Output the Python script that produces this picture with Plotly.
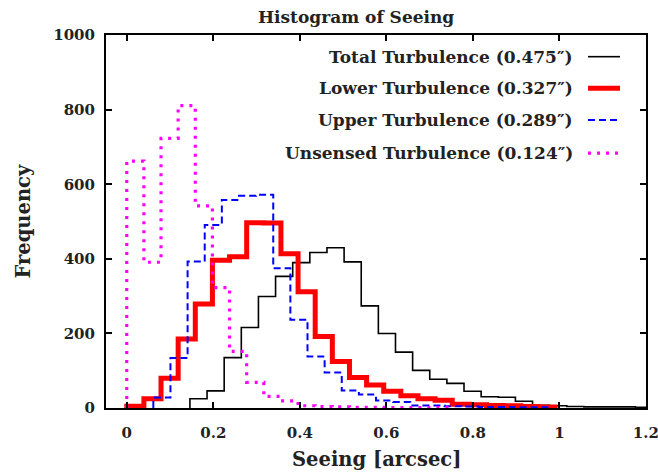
import plotly.graph_objects as go

# ---------------- data ----------------
bin_width = 0.0396

total_start = 0.146
total_counts = [25, 46, 135, 216, 299, 353, 390, 417, 430, 392, 274, 200, 150, 101,
                77, 66, 45, 30, 29, 18, 7, 6, 4, 3, 3, 3, 2]

lower_start = 0.0
lower_counts = [5, 25, 80, 185, 279, 396, 406, 497, 496, 414, 312, 192, 125, 82,
                62, 45, 33, 25, 21, 10, 9, 7, 6, 4, 3]

upper_start = 0.0614
upper_counts = [28, 134, 393, 491, 558, 569, 572, 375, 237, 138, 95, 47, 36, 20,
                16, 7, 7, 5, 4, 3, 3, 2, 2]

unsensed_start = 0.0
unsensed_counts = [662, 391, 723, 811, 542, 323, 152, 69, 31, 19, 6, 4, 3, 2, 2,
                   1, 1, 1, 1]

series_names = ["Total Turbulence (0.475\u2033)",
                "Lower Turbulence (0.327\u2033)",
                "Upper Turbulence (0.289\u2033)",
                "Unsensed Turbulence (0.124\u2033)"]

x_tickvals = [0, 0.2, 0.4, 0.6, 0.8, 1.0, 1.2]
x_ticktext = ["0", "0.2", "0.4", "0.6", "0.8", "1", "1.2"]
y_tickvals = [0, 200, 400, 600, 800, 1000]

# ---------------- styling ----------------
FONT = "DejaVu Serif"
TXT = "#222222"
styles = [
    dict(color="black", width=1.6, dash="solid"),
    dict(color="#ff0000", width=5, dash="solid"),
    dict(color="#0000ff", width=2, dash="7px,4px"),
    dict(color="#ff00ff", width=3.2, dash="3px,6px"),
]


def step_xy(start, counts):
    edges = [start + bin_width * i for i in range(len(counts) + 1)]
    xs = [edges[0]] + edges
    ys = [0] + list(counts) + [0]
    return xs, ys


fig = go.Figure()
all_series = [(total_start, total_counts), (lower_start, lower_counts),
              (upper_start, upper_counts), (unsensed_start, unsensed_counts)]
for (start, counts), name, st in zip(all_series, series_names, styles):
    xs, ys = step_xy(start, counts)
    fig.add_trace(go.Scatter(x=xs, y=ys, mode="lines", name=name,
                             line=dict(color=st["color"], width=st["width"],
                                       dash=st["dash"], shape="hv"),
                             showlegend=False, hoverinfo="skip"))

# ---------------- manual gnuplot-like legend ----------------
L, R, T, B = 106, 646, 35, 408.3
W, H = R - L, B - T
rows_px = [56.7, 88.3, 120.0, 153.3]
text_right_px = 575
sample_px = (588, 620)

annotations = []
shapes = []
for name, st, ry in zip(series_names, styles, rows_px):
    yp = (B - ry) / H
    annotations.append(dict(x=(text_right_px - L) / W, y=yp, xref="paper", yref="paper",
                            text="<b>%s</b>" % name, showarrow=False,
                            xanchor="right", yanchor="middle",
                            font=dict(family=FONT, size=17, color=TXT)))
    shapes.append(dict(type="line", xref="paper", yref="paper",
                       x0=(sample_px[0] - L) / W, x1=(sample_px[1] - L) / W,
                       y0=yp, y1=yp,
                       line=dict(color=st["color"], width=st["width"], dash=st["dash"])))

# axis titles
annotations.append(dict(x=0.5, y=(B - 460) / H, xref="paper", yref="paper",
                        text="<b>Seeing [arcsec]</b>", showarrow=False,
                        xanchor="center", yanchor="middle",
                        font=dict(family=FONT, size=19.5, color=TXT)))
annotations.append(dict(x=(23 - L) / W, y=0.5, xref="paper", yref="paper",
                        text="<b>Frequency</b>", showarrow=False, textangle=-90,
                        xanchor="center", yanchor="middle",
                        font=dict(family=FONT, size=19.5, color=TXT)))
annotations.append(dict(x=(356 - L) / W, y=(B - 17) / H, xref="paper", yref="paper",
                        text="<b>Histogram of Seeing</b>", showarrow=False,
                        xanchor="center", yanchor="middle",
                        font=dict(family=FONT, size=17, color=TXT)))

axis_common = dict(showgrid=False, zeroline=False, showline=True, linecolor="black",
                   linewidth=2, mirror="allticks", ticks="inside", ticklen=6,
                   tickwidth=1.5, tickcolor="black", automargin=False,
                   ticklabeloverflow="allow",
                   tickfont=dict(family=FONT, size=15, color=TXT, weight="bold"))

fig.update_layout(
    width=658, height=472,
    margin=dict(l=L, r=658 - R, t=T, b=472 - B, autoexpand=False),
    paper_bgcolor="white", plot_bgcolor="white",
    xaxis=dict(range=[-0.048, 1.2003], tickvals=x_tickvals, ticktext=x_ticktext,
               ticklabelstandoff=10, **axis_common),
    yaxis=dict(range=[0, 1000.5], tickvals=y_tickvals, ticklabelstandoff=6,
               **axis_common),
    annotations=annotations, shapes=shapes,
    showlegend=False,
)

fig.write_html("out.html", config={"displayModeBar": False},
               post_script="document.body.style.margin='0';document.body.style.overflow='hidden';")
